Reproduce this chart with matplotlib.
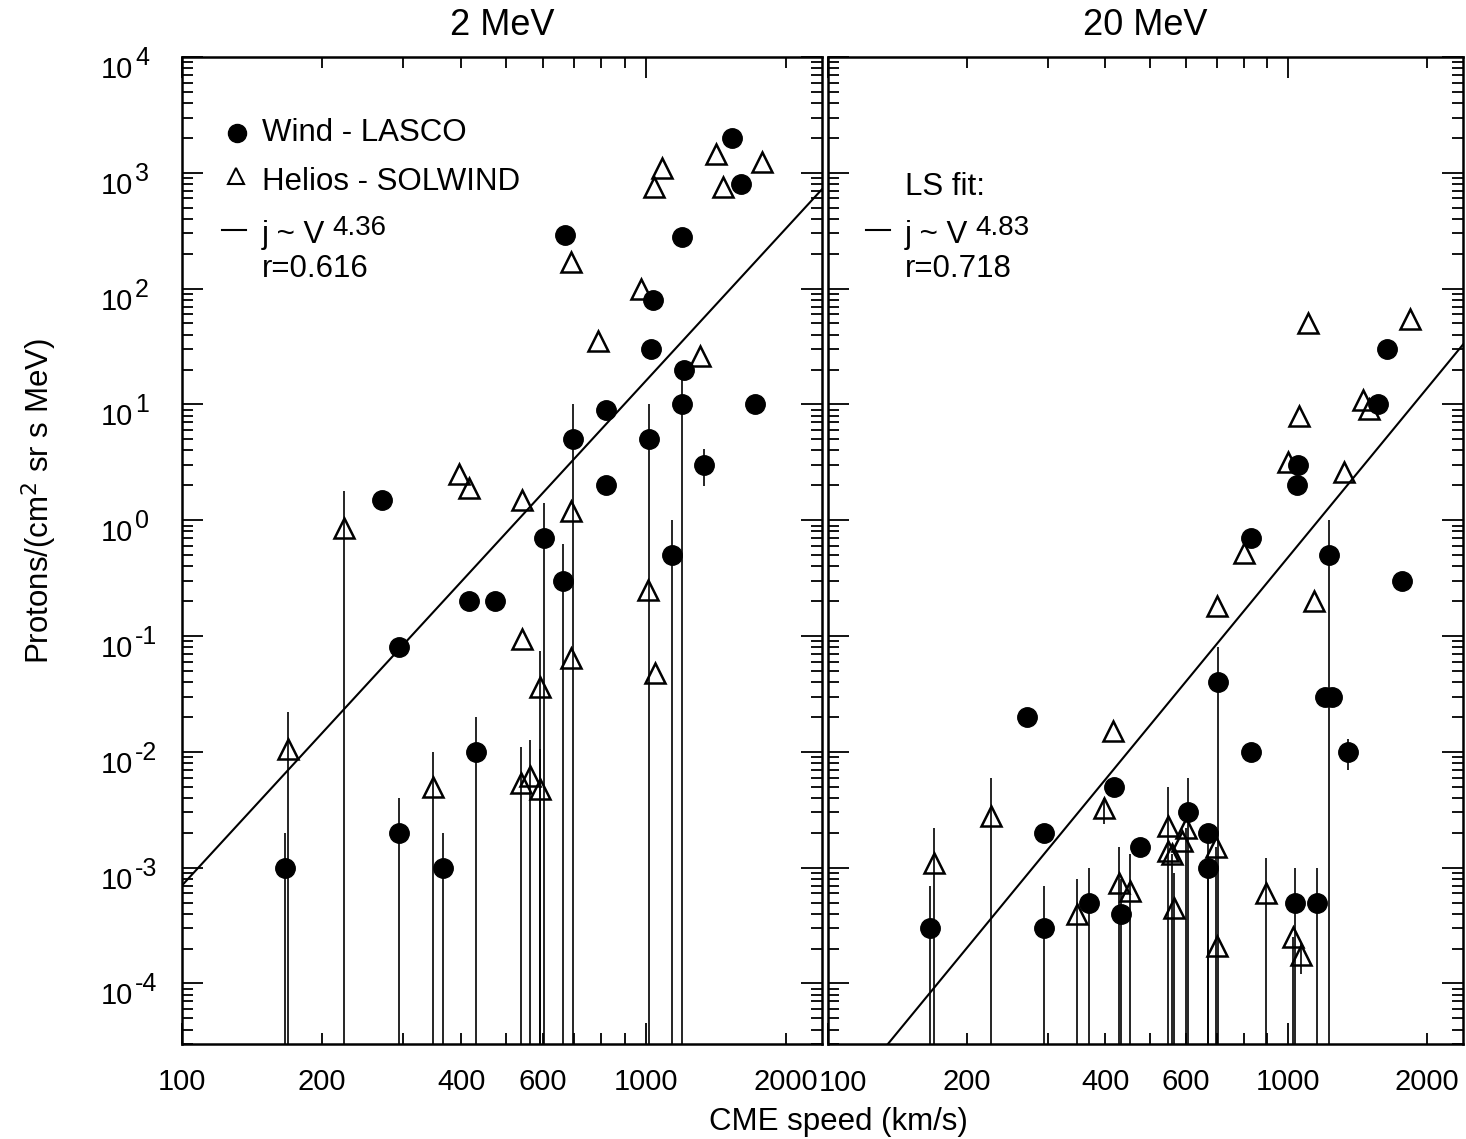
import numpy as np
import matplotlib.pyplot as plt
from matplotlib.transforms import ScaledTranslation, blended_transform_factory

plt.rcParams['font.family'] = 'Liberation Sans'

# %%
# data (CME speed in km/s, intensity j in protons/(cm2 sr s MeV))
# hi/lo = error bar ends, nan = no bar, FLOOR = bar runs off the bottom of the plot
FLOOR = 1e-6
nan = np.nan

# 2 MeV, Wind - LASCO
wind2_v = [167, 270, 294, 294, 366, 415, 430, 474, 602, 662, 668, 695, 820, 820,
           1015, 1025, 1036, 1138, 1196, 1207, 1196, 1334, 1534, 1604, 1719]
wind2_j = [1e-3, 1.5, 0.08, 2e-3, 1e-3, 0.2, 0.01, 0.2, 0.7, 0.3, 290, 5, 9, 2,
           5, 30, 80, 0.5, 280, 20, 10, 3, 2000, 800, 10]
wind2_hi = [2e-3, nan, nan, 4e-3, 2e-3, nan, 0.02, nan, 1.4, 0.62, nan, 10, nan, nan,
            10, nan, nan, 1.0, nan, nan, 20, 4.1, nan, nan, nan]
wind2_lo = [FLOOR, nan, nan, FLOOR, FLOOR, nan, FLOOR, nan, FLOOR, FLOOR, nan, FLOOR, nan, nan,
            FLOOR, nan, nan, FLOOR, nan, nan, FLOOR, 1.96, nan, nan, nan]

# 2 MeV, Helios - SOLWIND
hel2_v = [169, 224, 347, 395, 415, 540, 540, 538, 562, 590, 590, 689, 689, 689,
          787, 976, 1010, 1045, 1040, 1084, 1309, 1416, 1467, 1781]
hel2_j = [0.0106, 0.85, 0.005, 2.5, 1.9, 1.5, 0.094, 0.0054, 0.0062, 0.0048, 0.036, 1.2, 0.065, 170,
          35, 100, 0.25, 0.048, 750, 1100, 26, 1450, 750, 1250]
hel2_hi = [0.022, 1.8, 0.01, nan, nan, nan, nan, 0.011, 0.0126, 0.0105, 0.074, nan, nan, nan,
           nan, nan, nan, nan, nan, nan, nan, nan, nan, nan]
hel2_lo = [FLOOR, FLOOR, FLOOR, nan, nan, nan, nan, FLOOR, FLOOR, FLOOR, FLOOR, nan, nan, nan,
           nan, nan, nan, nan, nan, nan, nan, nan, nan, nan]

# 20 MeV, Wind - LASCO
wind20_v = [166, 271, 295, 295, 368, 419, 432, 477, 605, 669, 669, 703, 830,
            1036, 1157, 1205, 1247, 1352, 1229, 1766, 830, 1048, 1044, 1564, 1637]
wind20_j = [3e-4, 0.02, 2e-3, 3e-4, 5e-4, 5e-3, 4e-4, 1.5e-3, 3e-3, 2e-3, 1e-3, 0.04, 0.01,
            5e-4, 5e-4, 0.03, 0.03, 0.01, 0.5, 0.3, 0.7, 3.0, 2.0, 10, 30]
wind20_hi = [7e-4, nan, nan, 7e-4, 1e-3, nan, 8e-4, nan, 6e-3, 2e-3, 1e-3, 0.08, nan,
             1e-3, 1e-3, nan, nan, 0.013, 1.0, nan, nan, nan, nan, nan, nan]
wind20_lo = [FLOOR, nan, nan, FLOOR, FLOOR, nan, FLOOR, nan, FLOOR, FLOOR, FLOOR, FLOOR, nan,
             FLOOR, FLOOR, nan, nan, 0.007, FLOOR, nan, nan, nan, nan, nan, nan]

# 20 MeV, Helios - SOLWIND
hel20_v = [170, 226, 348, 398, 417, 428, 452, 547, 547, 558, 564, 599, 587, 697,
           700, 896, 1025, 1067, 700, 802, 1000, 1057, 1106, 1140, 1325, 1452, 1495, 1837]
hel20_j = [1.1e-3, 2.8e-3, 4e-4, 3.3e-3, 0.015, 7.4e-4, 6.3e-4, 2.3e-3, 1.4e-3, 1.3e-3, 4.5e-4, 2.2e-3, 1.7e-3, 1.5e-3,
           2.1e-4, 6.1e-4, 2.5e-4, 1.75e-4, 0.18, 0.52, 3.2, 8, 50, 0.2, 2.6, 11, 9.2, 55]
hel20_hi = [2.2e-3, 6e-3, 8e-4, 4e-3, nan, 1.5e-3, 1.3e-3, 5e-3, nan, 1.3e-3, 9e-4, 2.2e-3, nan, 1.5e-3,
            nan, 1.2e-3, 2.5e-4, 2.3e-4, nan, nan, nan, nan, nan, nan, nan, nan, nan, nan]
hel20_lo = [FLOOR, FLOOR, FLOOR, 2.4e-3, nan, FLOOR, FLOOR, FLOOR, nan, FLOOR, FLOOR, FLOOR, nan, FLOOR,
            nan, FLOOR, FLOOR, 1.2e-4, nan, nan, nan, nan, nan, nan, nan, nan, nan, nan]

# least squares power law fits: j = j1000 * (V/1000)^p
fit2_p, fit2_j1000, fit2_r = 4.36, 16.0, 0.616
fit20_p, fit20_j1000, fit20_r = 4.83, 0.48, 0.718

xticks = [100, 200, 400, 600, 1000, 2000]
ydecades = [-4, -3, -2, -1, 0, 1, 2, 3, 4]
XMIN, XMAX = 100, 2400
YMIN, YMAX = 3e-5, 1e4

FS = 22.5


# %%
def draw_points(ax, v, j, hi, lo, marker, filled):
    v, j, hi, lo = map(np.asarray, (v, j, hi, lo))
    m = ~np.isnan(hi)
    ax.vlines(v[m], lo[m], hi[m], color='k', lw=1.2, zorder=2)
    if filled:
        ax.plot(v, j, ls='none', marker=marker, ms=14, mfc='k', mec='k', zorder=3)
    else:
        ax.plot(v, j, ls='none', marker=marker, ms=15, mfc='none', mec='k', mew=1.8, zorder=3)


def style_axes(ax, shown):
    ax.set_xscale('log')
    ax.set_yscale('log')
    ax.set_xlim(XMIN, XMAX)
    ax.set_ylim(YMIN, YMAX)
    for s in ax.spines.values():
        s.set_linewidth(1.8)
    ax.tick_params(which='both', direction='in', top=True, right=True, width=1.3)
    ax.tick_params(which='major', length=15)
    ax.tick_params(which='minor', length=8)
    ax.tick_params(axis='x', which='both', pad=17, labelsize=21)
    ax.tick_params(axis='y', which='both', labelleft=False)
    ax.xaxis.set_major_locator(plt.LogLocator(base=10, numticks=10))
    ax.xaxis.set_minor_locator(plt.LogLocator(base=10, subs=np.arange(2, 10), numticks=10))
    lab = lambda x, pos: '%d' % round(x) if round(x) in shown else ''
    ax.xaxis.set_major_formatter(plt.FuncFormatter(lab))
    ax.xaxis.set_minor_formatter(plt.FuncFormatter(lab))
    ax.yaxis.set_major_locator(plt.FixedLocator([10.0 ** d for d in ydecades]))
    ax.yaxis.set_minor_locator(plt.LogLocator(base=10, subs=np.arange(2, 10), numticks=20))


def decade_labels(ax):
    # "10" with a big raised exponent, IDL style
    tr = blended_transform_factory(ax.transAxes, ax.transData)
    down = ScaledTranslation(0, -0.21, ax.figure.dpi_scale_trans)
    up = ScaledTranslation(0, -0.08, ax.figure.dpi_scale_trans)
    for d in ydecades:
        ax.text(-0.076, 10.0 ** d, '10', fontsize=21, ha='right', va='baseline',
                transform=tr + down)
        ax.text(-0.073, 10.0 ** d, '%d' % d, fontsize=18, ha='left', va='baseline',
                transform=tr + up)


def fit_label(ax, x, y, p):
    base = ax.text(x, y, 'j ~ V', fontsize=FS, va='center', transform=ax.transAxes)
    ax.annotate('%.2f' % p, xy=(1.0, 0.5), xycoords=base, xytext=(5, 0),
                textcoords='offset points', fontsize=20, va='baseline')


def fit_line(ax, p, j1000):
    vv = np.geomspace(XMIN, XMAX, 50)
    ax.plot(vv, j1000 * (vv / 1000.0) ** p, color='k', lw=1.5, zorder=2)


fig = plt.figure(figsize=(14.66, 11.39), dpi=100)
ax1 = fig.add_axes([0.124, 0.0834, 0.437, 0.8666])
ax2 = fig.add_axes([0.565, 0.0834, 0.433, 0.8666])

# %%
# left: 2 MeV
style_axes(ax1, xticks)
decade_labels(ax1)
fit_line(ax1, fit2_p, fit2_j1000)
draw_points(ax1, wind2_v, wind2_j, wind2_hi, wind2_lo, 'o', True)
draw_points(ax1, hel2_v, hel2_j, hel2_hi, hel2_lo, '^', False)
ax1.set_title('2 MeV', fontsize=26, pad=16)

tr = ax1.transAxes
ax1.plot([0.086], [0.923], 'o', ms=13, color='k', transform=tr)
ax1.text(0.125, 0.923, 'Wind - LASCO', fontsize=FS, va='center', transform=tr)
ax1.plot([0.084], [0.879], '^', ms=11, mfc='none', mec='k', mew=1.5, transform=tr)
ax1.text(0.125, 0.873, 'Helios - SOLWIND', fontsize=FS, va='center', transform=tr)
ax1.plot([0.062, 0.101], [0.825, 0.825], color='k', lw=1.5, transform=tr)
fit_label(ax1, 0.125, 0.820, fit2_p)
ax1.text(0.125, 0.785, 'r=%.3f' % fit2_r, fontsize=FS, va='center', transform=tr)

# %%
# right: 20 MeV (its "100" sits a bit right of the tick so it clears the "2000")
style_axes(ax2, xticks[1:])
ax2.text(XMIN, 0, '100', fontsize=21, ha='center', va='top',
         transform=blended_transform_factory(ax2.transData, ax2.transAxes)
         + ScaledTranslation(0.15, -0.25, fig.dpi_scale_trans))
fit_line(ax2, fit20_p, fit20_j1000)
draw_points(ax2, wind20_v, wind20_j, wind20_hi, wind20_lo, 'o', True)
draw_points(ax2, hel20_v, hel20_j, hel20_hi, hel20_lo, '^', False)
ax2.set_title('20 MeV', fontsize=26, pad=16)

tr = ax2.transAxes
ax2.text(0.121, 0.868, 'LS fit:', fontsize=FS, va='center', transform=tr)
ax2.plot([0.060, 0.098], [0.825, 0.825], color='k', lw=1.5, transform=tr)
fit_label(ax2, 0.121, 0.820, fit20_p)
ax2.text(0.121, 0.785, 'r=%.3f' % fit20_r, fontsize=FS, va='center', transform=tr)

fig.text(0.572, 0.002, 'CME speed (km/s)', fontsize=22.5, ha='center', va='bottom')
fig.text(0.027, 0.56, r'Protons/(cm$^{2}$ sr s MeV)', fontsize=22.5, rotation=90,
         ha='center', va='center')

fig.savefig('out.png', dpi=100)
